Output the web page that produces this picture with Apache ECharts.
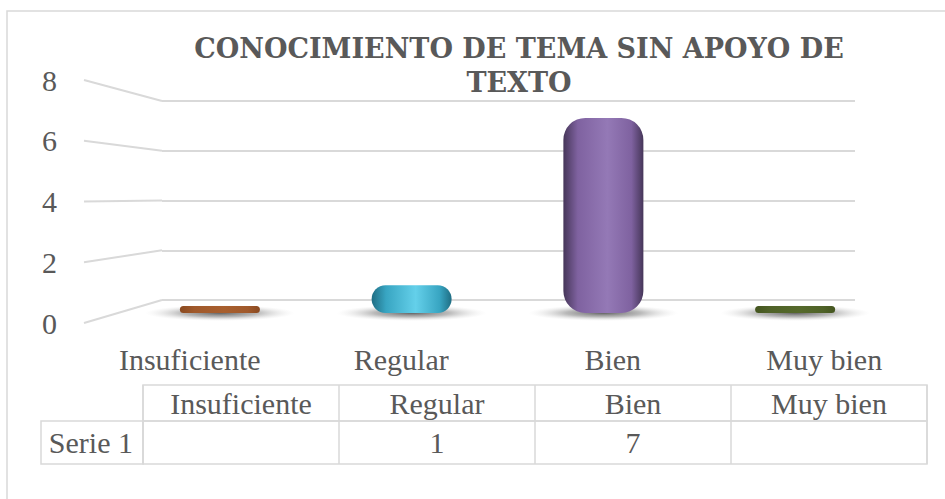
<!DOCTYPE html>
<html>
<head>
<meta charset="utf-8">
<script src="https://cdn.jsdelivr.net/npm/echarts@6/dist/echarts.min.js"></script>
<style>
  html, body { margin: 0; padding: 0; background: #fff; }
  #main { width: 945px; height: 499px; }
</style>
</head>
<body>
<div id="main"></div>
<script>
// datos del gráfico
var categorias = ['Insuficiente', 'Regular', 'Bien', 'Muy bien'];
var serie1 = [0, 1, 7, 0];
var nombreSerie = 'Serie 1';
var ticksY = [0, 2, 4, 6, 8];

var fuente = 'Liberation Serif';
var gris = '#595959';
var linea = '#d9d9d9';

// colores por barra (tipo Excel 3D)
var colores = [
  ['#8a4a20', '#a0592b', '#a85f2e'],
  ['#1f6d83', '#38a5c2', '#64d0ea'],
  ['#463659', '#7f62a0', '#9479b6'],
  ['#44551f', '#4f6228', '#55692b']
];

function degradado(c) {
  return new echarts.graphic.LinearGradient(0, 0, 1, 0, [
    { offset: 0, color: c[0] },
    { offset: 0.18, color: c[1] },
    { offset: 0.55, color: c[2] },
    { offset: 0.85, color: c[1] },
    { offset: 1, color: c[0] }
  ]);
}

var myChart = echarts.init(document.getElementById('main'), null, { renderer: 'svg' });

myChart.setOption({
  animation: false,
  title: {
    text: 'CONOCIMIENTO DE TEMA SIN APOYO DE\nTEXTO',
    left: 519,
    top: 31,
    padding: 0,
    textAlign: 'center',
    textStyle: { fontFamily: 'DejaVu Serif', fontWeight: 'bold', fontSize: 27, lineHeight: 34, color: gris }
  },
  grid: [
    { left: 162, right: 90, top: 101, bottom: 199 },          // pared del fondo
    { left: 84, width: 2, top: 80, bottom: 176 },             // eje Y frontal
    { left: 124, right: 54, top: 90, bottom: 186 },           // barras
    { left: 84, right: 15, top: 300, bottom: 169 },           // etiquetas de categoría
    { left: 143, right: 18, top: 385, bottom: 78, show: true, borderColor: linea, borderWidth: 1.5 },  // cabecera tabla
    { left: 143, right: 18, top: 421, bottom: 35, show: true, borderColor: linea, borderWidth: 1.5 },  // fila serie
    { left: 41, width: 102, top: 421, bottom: 35, show: true, borderColor: linea, borderWidth: 1.5 }   // celda nombre
  ],
  xAxis: [
    { gridIndex: 0, type: 'value', min: 0, max: 1, show: false },
    { gridIndex: 1, type: 'value', min: 0, max: 1, show: false },
    { gridIndex: 2, type: 'category', data: categorias, show: false },
    { gridIndex: 3, type: 'category', data: categorias,
      axisLine: { show: false }, axisTick: { show: false },
      axisLabel: { fontFamily: fuente, fontSize: 30, color: gris, margin: 29, verticalAlign: 'middle' } },
    { gridIndex: 4, type: 'category', data: categorias,
      axisLine: { show: false }, axisTick: { show: false },
      splitLine: { show: true, lineStyle: { color: linea, width: 1.5 } },
      axisLabel: { fontFamily: fuente, fontSize: 30, color: gris, margin: -18, verticalAlign: 'middle' } },
    { gridIndex: 5, type: 'category', data: categorias,
      axisLine: { show: false }, axisTick: { show: false },
      splitLine: { show: true, lineStyle: { color: linea, width: 1.5 } },
      axisLabel: { fontFamily: fuente, fontSize: 30, color: gris, margin: -22, verticalAlign: 'middle',
        formatter: function (v, i) { return serie1[i] ? String(serie1[i]) : ''; } } },
    { gridIndex: 6, type: 'value', show: false }
  ],
  yAxis: [
    { gridIndex: 0, type: 'value', min: 0, max: 8, interval: 2,
      axisLine: { show: false }, axisTick: { show: false }, axisLabel: { show: false },
      splitLine: { lineStyle: { color: linea, width: 2 } } },
    { gridIndex: 1, type: 'value', min: 0, max: 8, interval: 2,
      axisLine: { show: false }, axisTick: { show: false }, splitLine: { show: false },
      axisLabel: { fontFamily: fuente, fontSize: 30, color: gris, margin: 27 } },
    { gridIndex: 2, type: 'value', min: 0, max: 8, show: false },
    { gridIndex: 3, type: 'value', show: false },
    { gridIndex: 4, type: 'value', show: false },
    { gridIndex: 5, type: 'category', data: [nombreSerie],
      axisLine: { show: false }, axisTick: { show: false },
      axisLabel: { fontFamily: fuente, fontSize: 30, color: gris, margin: 10 } },
    { gridIndex: 6, type: 'value', show: false }
  ],
  series: [
    {
      // sombra en el piso
      type: 'scatter',
      xAxisIndex: 2, yAxisIndex: 2,
      symbol: 'circle',
      symbolSize: [150, 16],
      silent: true,
      z: 1,
      itemStyle: {
        opacity: 1,
        color: new echarts.graphic.RadialGradient(0.5, 0.5, 0.5, [
          { offset: 0, color: 'rgba(80,80,80,0.9)' },
          { offset: 0.5, color: 'rgba(140,140,140,0.6)' },
          { offset: 1, color: 'rgba(220,220,220,0)' }
        ])
      },
      data: serie1.map(function () { return 0; })
    },
    {
      name: nombreSerie,
      type: 'bar',
      xAxisIndex: 2, yAxisIndex: 2,
      barWidth: 80,
      barMinHeight: 7,
      z: 3,
      data: serie1.map(function (v, i) {
        return {
          value: v,
          itemStyle: {
            color: degradado(colores[i]),
            borderRadius: v === 0 ? [4, 4, 4, 4] : Math.min(22, v * 15)
          }
        };
      })
    }
  ]
});

// líneas de la pared lateral: desde el eje frontal hasta la pared del fondo
var paredes = ticksY.map(function (t) {
  var a = myChart.convertToPixel({ gridIndex: 1 }, [0, t]);
  var b = myChart.convertToPixel({ gridIndex: 0 }, [0, t]);
  return {
    type: 'line',
    shape: { x1: a[0], y1: a[1], x2: b[0], y2: b[1] },
    style: { stroke: linea, lineWidth: 2 },
    silent: true,
    z: -5
  };
});
myChart.setOption({
  graphic: [
    { type: 'rect', shape: { x: 7, y: 11, width: 960, height: 520 },
      style: { fill: 'none', stroke: linea, lineWidth: 1.5 }, silent: true, z: -10 }
  ].concat(paredes)
});
</script>
</body>
</html>
